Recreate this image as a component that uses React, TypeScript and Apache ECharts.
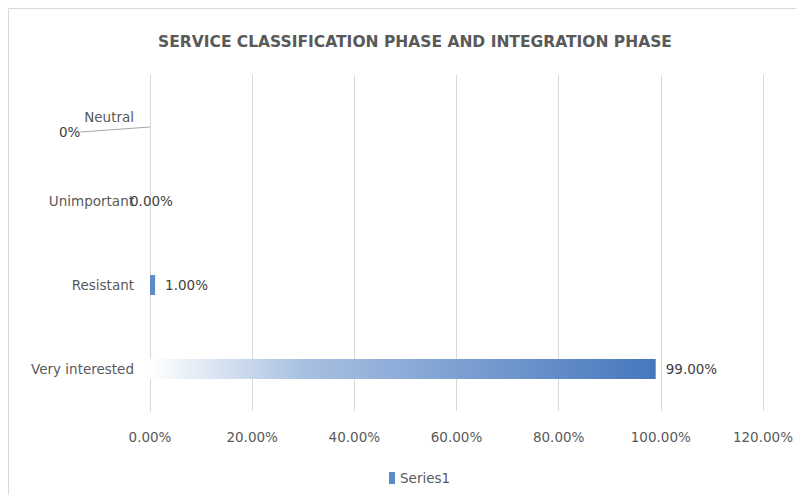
import React, { useEffect, useRef } from "react";
import * as echarts from "echarts";

const categories = ["Very interested", "Resistant", "Unimportant", "Neutral"];
const values = [99, 1, 0, 0];
const valueLabels = ["99.00%", "1.00%", "0.00%", "0%"];
const xTicks = [0, 20, 40, 60, 80, 100, 120];
const seriesName = "Series1";
const title = "SERVICE CLASSIFICATION PHASE AND INTEGRATION PHASE";

const FONT = "'DejaVu Sans', 'Open Sans', sans-serif";

export default function App() {
  const ref = useRef<HTMLDivElement>(null);
  useEffect(() => {
    if (!ref.current) return;
    const chart = echarts.init(ref.current, undefined, { renderer: "svg" });
    const gradient = new echarts.graphic.LinearGradient(0, 0, 1, 0, [
      { offset: 0, color: "#ffffff" },
      { offset: 0.3, color: "#a9c1e2" },
      { offset: 1, color: "#4677be" },
    ]);
    const data = values.map((v, i) => {
      const item: any = { value: v };
      if (i === 0) item.itemStyle = { color: gradient };
      else item.itemStyle = { color: "#5b8cc8" };
      if (i === 3) item.labelLine = { show: true };
      return item;
    });
    chart.setOption({
      animation: false,
      backgroundColor: "#ffffff",
      title: {
        text: title,
        left: 402,
        textAlign: "center",
        top: 21,
        textStyle: {
          fontFamily: FONT,
          fontSize: 15.5,
          fontWeight: "bold",
          color: "#595959",
        },
      },
      graphic: [
        {
          type: "line",
          shape: { x1: 0.5, y1: 0.5, x2: 788, y2: 0.5 },
          style: { stroke: "#d9d9d9", lineWidth: 1 },
        },
        {
          type: "line",
          shape: { x1: 0.5, y1: 0.5, x2: 0.5, y2: 487 },
          style: { stroke: "#d9d9d9", lineWidth: 1 },
        },
      ],
      legend: {
        top: 458,
        left: 376,
        data: [seriesName],
        icon: "rect",
        itemWidth: 6,
        itemHeight: 12,
        itemGap: 5,
        textStyle: { fontFamily: FONT, fontSize: 13.5, color: "#595959" },
      },
      grid: { left: 142, right: 31, top: 67, bottom: 84, containLabel: false },
      xAxis: {
        type: "value",
        min: 0,
        max: 120,
        interval: 20,
        axisLine: { show: false },
        axisTick: { show: false },
        splitLine: { lineStyle: { color: "#d9d9d9", width: 1 } },
        axisLabel: {
          margin: 19,
          fontFamily: FONT,
          fontSize: 13.5,
          color: "#595959",
          formatter: (v: number) => (xTicks.includes(v) ? v.toFixed(2) + "%" : ""),
        },
      },
      yAxis: {
        type: "category",
        data: categories,
        axisLine: { show: true, lineStyle: { color: "#d9d9d9" } },
        axisTick: { show: false },
        axisLabel: {
          margin: 16,
          fontFamily: FONT,
          fontSize: 13.5,
          color: "#595959",
        },
      },
      series: [
        {
          name: seriesName,
          type: "bar",
          data,
          barWidth: 20,
          itemStyle: { color: "#5b8cc8" },
          label: {
            show: true,
            position: "right",
            distance: 10,
            fontFamily: FONT,
            fontSize: 13.5,
            color: "#404040",
            formatter: (p: any) => valueLabels[p.dataIndex],
          },
          labelLine: {
            show: false,
            lineStyle: { color: "#a6a6a6", width: 1 },
          },
          labelLayout: (p: any) => {
            if (p.dataIndex === 3) return { dx: -101, dy: 15 };
            if (p.dataIndex === 2) return { dx: -30 };
            return {};
          },
        },
      ],
    });
    return () => chart.dispose();
  }, []);
  return <div ref={ref} style={{ width: 788, height: 487 }} />;
}
